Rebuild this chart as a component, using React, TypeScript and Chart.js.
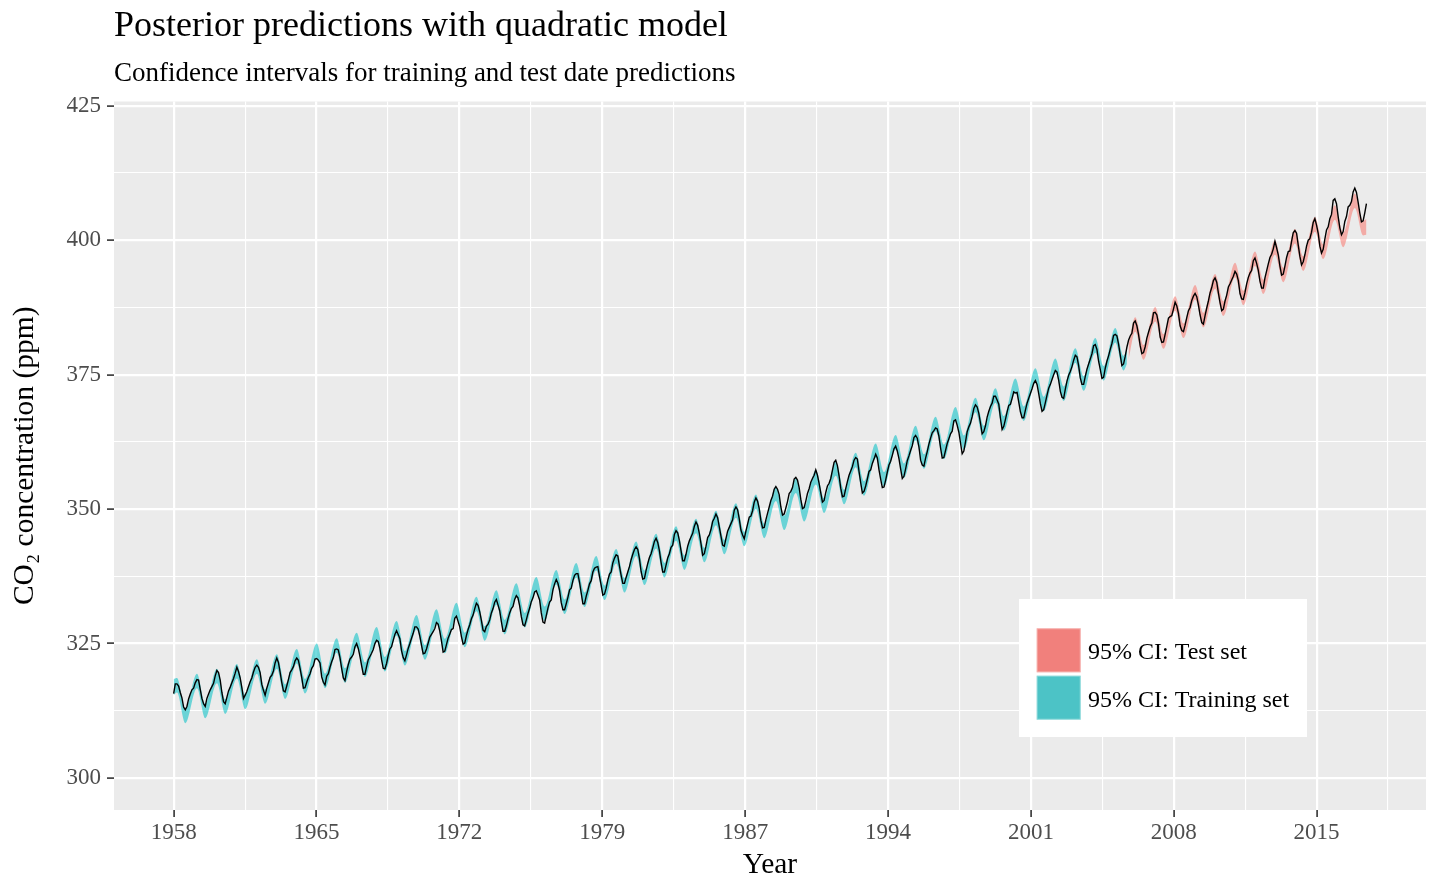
import { useEffect, useRef } from 'react';
import { Chart, registerables } from 'chart.js';

Chart.register(...registerables);

const SERIF = '"Liberation Serif", "Times New Roman", Times, serif';

// Mauna Loa monthly means (ppm), one row per year, March 1958 to December 2017
const co2_1958_1967 = [
  315.7, 317.5, 317.5, 317.1, 315.9, 314.9, 313.2, 312.7, 313.3, 314.7,
  315.6, 316.4, 316.7, 317.7, 318.3, 318.2, 316.5, 314.8, 313.8, 313.3, 314.8, 315.6,
  316.4, 317.0, 317.6, 319.0, 320.0, 319.6, 318.2, 315.9, 314.2, 313.8, 315.0, 316.2,
  316.9, 317.7, 318.5, 319.5, 320.6, 319.8, 318.6, 316.8, 314.8, 315.4, 316.1, 317.0,
  317.9, 318.6, 319.7, 320.6, 321.0, 320.6, 319.6, 317.4, 316.3, 315.4, 316.7, 317.7,
  318.7, 319.1, 319.9, 321.4, 322.3, 321.5, 319.7, 317.8, 316.2, 316.0, 317.1, 318.3,
  319.6, 320.1, 320.7, 321.8, 322.3, 321.9, 320.4, 318.7, 316.7, 316.8, 317.8, 318.7,
  319.4, 320.4, 320.9, 322.1, 322.2, 321.9, 321.4, 318.8, 317.8, 317.3, 318.9, 319.4,
  320.6, 321.6, 322.4, 323.9, 324.0, 323.8, 322.4, 320.4, 318.6, 318.1, 319.8, 321.1,
  322.1, 322.5, 323.0, 324.4, 325.0, 324.1, 322.6, 320.9, 319.3, 319.3, 320.7, 322.0,
];
const co2_1968_1977 = [
  322.6, 323.2, 323.9, 325.0, 325.6, 325.4, 324.1, 322.0, 320.4, 320.3, 321.3, 322.8,
  324.0, 324.4, 325.6, 326.7, 327.4, 326.7, 325.9, 323.7, 322.4, 321.8, 322.9, 324.1,
  325.0, 326.0, 326.9, 328.1, 328.1, 327.7, 326.4, 324.7, 323.1, 323.2, 324.0, 325.1,
  326.2, 326.7, 327.2, 327.8, 328.9, 328.6, 327.3, 325.5, 323.4, 323.6, 324.8, 326.0,
  326.8, 327.6, 327.8, 329.7, 330.1, 329.1, 328.1, 326.3, 324.9, 325.1, 326.5, 327.6,
  328.5, 329.6, 330.3, 331.5, 332.5, 332.1, 330.9, 329.3, 327.5, 327.2, 328.2, 328.6,
  329.4, 330.7, 331.5, 332.7, 333.2, 332.2, 331.1, 329.1, 327.3, 327.3, 328.3, 329.6,
  330.7, 331.5, 331.9, 333.2, 333.9, 333.5, 332.0, 330.0, 328.5, 328.3, 329.4, 330.6,
  331.6, 332.8, 333.5, 334.6, 334.8, 334.0, 333.1, 330.7, 329.0, 328.8, 330.2, 331.6,
  332.7, 333.1, 335.0, 336.1, 336.9, 336.2, 334.9, 332.6, 331.3, 331.3, 332.4, 333.6,
];
const co2_1978_1987 = [
  335.0, 335.3, 336.7, 337.7, 338.0, 338.0, 336.4, 334.4, 332.4, 332.4, 333.8, 334.9,
  336.1, 336.7, 338.3, 339.0, 339.2, 339.3, 337.5, 335.8, 334.0, 334.2, 335.3, 336.8,
  337.9, 338.3, 340.0, 340.9, 341.5, 341.3, 339.4, 337.7, 336.2, 336.2, 337.3, 338.3,
  339.3, 340.6, 341.6, 342.5, 343.0, 342.5, 340.8, 338.4, 337.0, 337.1, 338.6, 339.9,
  341.0, 341.7, 342.8, 344.0, 344.6, 343.8, 342.3, 340.1, 338.3, 338.3, 339.6, 340.9,
  341.7, 342.9, 343.3, 345.3, 346.0, 345.6, 344.2, 342.3, 340.4, 340.4, 341.6, 343.1,
  344.1, 344.8, 345.5, 346.8, 347.6, 347.0, 345.5, 343.6, 341.4, 341.7, 343.1, 344.7,
  345.2, 346.2, 347.7, 348.3, 349.1, 348.4, 346.7, 345.0, 343.3, 343.1, 344.5, 345.9,
  346.6, 347.3, 348.0, 349.8, 350.4, 349.9, 348.2, 346.1, 345.2, 344.5, 345.9, 347.2,
  348.5, 348.7, 349.7, 351.3, 352.1, 351.5, 350.1, 347.9, 346.5, 346.6, 348.0, 349.2,
];
const co2_1988_1997 = [
  350.4, 351.6, 352.4, 353.7, 354.2, 353.7, 352.7, 350.4, 348.9, 349.1, 350.2, 351.4,
  352.9, 353.3, 354.0, 355.6, 355.9, 355.4, 354.0, 351.8, 350.1, 350.3, 351.5, 352.9,
  353.8, 355.0, 355.7, 356.3, 357.3, 356.3, 354.8, 353.0, 351.3, 351.6, 353.1, 354.3,
  354.8, 355.7, 357.2, 358.7, 359.1, 358.1, 356.2, 353.9, 352.3, 352.4, 353.8, 355.1,
  356.3, 357.1, 357.9, 359.1, 359.6, 359.3, 357.0, 354.9, 353.0, 353.3, 354.3, 355.6,
  357.0, 357.3, 358.5, 359.3, 360.2, 359.5, 357.3, 355.6, 354.0, 354.1, 355.4, 356.9,
  358.2, 358.9, 360.0, 361.2, 361.7, 360.8, 359.4, 357.5, 355.7, 356.1, 357.5, 359.0,
  359.9, 360.9, 361.8, 363.3, 363.7, 363.2, 361.6, 359.1, 358.2, 358.0, 359.5, 360.7,
  362.1, 363.2, 364.2, 364.6, 365.1, 364.9, 363.6, 361.4, 359.5, 359.6, 360.9, 362.2,
  363.1, 364.0, 364.5, 366.4, 366.6, 365.6, 364.3, 362.3, 360.3, 360.8, 362.5, 364.4,
];
const co2_1998_2007 = [
  365.3, 366.0, 367.2, 368.7, 369.4, 369.0, 367.8, 366.0, 364.0, 364.4, 365.5, 367.1,
  368.2, 369.1, 369.7, 371.0, 371.0, 370.3, 369.5, 366.9, 364.8, 365.4, 366.7, 368.1,
  369.3, 369.5, 370.6, 371.8, 371.6, 371.7, 369.9, 368.1, 367.0, 367.0, 368.4, 369.7,
  370.6, 371.5, 372.4, 373.4, 373.9, 373.2, 371.5, 369.6, 368.2, 368.5, 369.8, 371.2,
  372.5, 373.2, 374.1, 375.0, 375.8, 375.5, 374.0, 371.9, 370.8, 370.6, 372.3, 373.8,
  374.9, 375.6, 376.5, 377.7, 378.6, 378.3, 376.7, 374.4, 373.2, 373.2, 374.7, 376.0,
  377.0, 377.9, 378.9, 380.4, 380.6, 379.7, 377.5, 376.0, 374.3, 374.5, 376.2, 377.5,
  378.5, 379.7, 380.8, 382.3, 382.5, 382.2, 380.7, 378.7, 376.7, 377.0, 378.4, 380.1,
  381.4, 382.2, 382.7, 384.6, 385.0, 384.1, 382.5, 380.4, 378.9, 379.1, 380.2, 381.8,
  382.9, 383.9, 384.6, 386.5, 386.6, 386.1, 384.5, 382.0, 381.0, 381.1, 382.5, 384.0,
];
const co2_2008_2017 = [
  385.5, 385.8, 386.0, 387.2, 388.5, 387.8, 386.4, 384.1, 383.2, 383.0, 384.2, 385.6,
  386.9, 387.5, 388.8, 389.6, 390.1, 389.5, 388.0, 386.1, 384.7, 384.4, 386.0, 387.4,
  388.7, 390.2, 391.2, 392.5, 393.0, 392.2, 390.2, 388.4, 386.9, 387.2, 388.7, 389.8,
  391.3, 391.9, 392.6, 393.3, 394.2, 393.7, 392.5, 390.1, 389.1, 389.0, 390.3, 391.9,
  393.1, 393.9, 394.4, 396.2, 396.7, 395.7, 394.4, 392.4, 391.1, 391.1, 393.0, 394.3,
  395.6, 396.8, 397.4, 398.4, 399.8, 398.6, 397.3, 395.2, 393.5, 393.7, 395.2, 396.8,
  397.9, 398.0, 399.8, 401.4, 401.8, 401.3, 399.1, 397.0, 395.4, 396.0, 397.3, 398.9,
  400.0, 400.3, 401.5, 403.3, 404.0, 402.8, 401.3, 398.9, 397.6, 398.3, 400.2, 401.9,
  402.5, 404.0, 404.8, 407.4, 407.7, 406.8, 404.4, 402.3, 401.0, 401.6, 403.5, 404.4,
  406.2, 406.5, 407.2, 409.0, 409.7, 408.9, 407.1, 405.1, 403.4, 403.6, 405.1, 406.8,
];
const firstYear = 1958;
const firstMonth = 3;

// 95% band knots: first month, then May / October of each year, then last month
const trainUpper = [
  318.4,
  318.6, 312.9, 319.4, 313.8, 320.3, 314.6, 321.2, 315.5, 322.1, 316.5,
  323.0, 317.4, 324.0, 318.4, 325.0, 319.4, 326.0, 320.4, 327.0, 321.5,
  328.1, 322.5, 329.2, 323.6, 330.3, 324.7, 331.4, 325.9, 332.6, 327.0,
  333.7, 328.2, 334.9, 329.4, 336.2, 330.7, 337.4, 331.9, 338.7, 333.2,
  340.0, 334.5, 341.3, 335.8, 342.6, 337.2, 344.0, 338.6, 345.4, 340.0,
  346.8, 341.4, 348.2, 342.8, 349.7, 344.3, 351.1, 345.8, 352.7, 347.3,
  354.2, 348.8, 355.7, 350.4, 357.3, 352.0, 358.9, 353.6, 360.5, 355.2,
  362.2, 356.9, 363.8, 358.5, 365.5, 360.2, 367.2, 362.0, 369.0, 363.7,
  370.7, 365.5, 372.5, 367.3, 374.3, 369.1, 376.2, 370.9, 378.0, 372.8,
  379.9, 374.7, 381.8, 376.6, 383.7, 378.5,
  379.8,
];
const trainLower = [
  315.4,
  315.9, 310.2, 316.7, 311.1, 317.6, 311.9, 318.5, 312.8, 319.4, 313.8,
  320.3, 314.7, 321.3, 315.7, 322.3, 316.7, 323.3, 317.7, 324.3, 318.8,
  325.4, 319.8, 326.5, 320.9, 327.6, 322.0, 328.7, 323.2, 329.9, 324.3,
  331.0, 325.5, 332.2, 326.7, 333.5, 328.0, 334.7, 329.2, 336.0, 330.5,
  337.3, 331.8, 338.6, 333.1, 339.9, 334.5, 341.3, 335.9, 342.7, 337.3,
  344.1, 338.7, 345.5, 340.1, 347.0, 341.6, 348.4, 343.1, 350.0, 344.6,
  351.5, 346.1, 353.0, 347.7, 354.6, 349.3, 356.2, 350.9, 357.8, 352.5,
  359.5, 354.2, 361.1, 355.8, 362.8, 357.5, 364.5, 359.3, 366.3, 361.0,
  368.0, 362.8, 369.8, 364.6, 371.6, 366.4, 373.5, 368.2, 375.3, 370.1,
  377.2, 372.0, 379.1, 373.9, 381.0, 375.8,
  377.0,
];
const testUpper = [
  380.6,
  385.7, 380.5, 387.6, 382.5, 389.6, 384.5, 391.7, 386.5, 393.7, 388.6, 395.8, 390.6,
  397.9, 392.7, 400.0, 394.9, 402.1, 397.0, 404.3, 399.2, 406.5, 401.4, 408.7, 403.6,
  404.0,
];
const testLower = [
  377.8,
  383.0, 377.8, 384.9, 379.8, 386.9, 381.8, 389.0, 383.8, 391.0, 385.9, 393.1, 387.9,
  395.2, 390.0, 397.3, 392.2, 399.4, 394.3, 401.6, 396.5, 403.8, 398.7, 406.0, 400.9,
  401.0,
];

const yearTicks = [1958.17, 1965.32, 1972.48, 1979.64, 1986.8, 1993.95, 2001.11, 2008.27, 2015.42];
const yearLabels = ['1958', '1965', '1972', '1979', '1987', '1994', '2001', '2008', '2015'];
const ppmTicks = [300, 325, 350, 375, 400, 425];

const legendLabels = ['95% CI: Test set', '95% CI: Training set'];
const legendColors = ['#F1807C', '#4CC3C6'];

const observed = [
  ...co2_1958_1967, ...co2_1968_1977, ...co2_1978_1987,
  ...co2_1988_1997, ...co2_1998_2007, ...co2_2008_2017,
];

const bandKnots = (startX: number, y0: number, y1: number, endX: number) => {
  const xs = [startX];
  for (let y = y0; y <= y1; y++) xs.push(y + 4 / 12, y + 9 / 12);
  xs.push(endX);
  return xs;
};
const toPoints = (xs: number[], ys: number[]) => xs.map((x, i) => ({ x, y: ys[i] }));

const trainX = bandKnots(1958 + 2 / 12, 1958, 2005, 2005 + 11 / 12);
const testX = bandKnots(2006, 2006, 2017, 2017 + 11 / 12);

// ggplot puts minor breaks half way between the major ones
const yearMinor = yearTicks
  .slice(1)
  .map((t, i) => (t + yearTicks[i]) / 2)
  .concat([yearTicks[yearTicks.length - 1] + (yearTicks[1] - yearTicks[0]) / 2]);
const ppmMinor = ppmTicks.slice(1).map((t, i) => (t + ppmTicks[i]) / 2);

const panelBackground = {
  id: 'panelBackground',
  beforeDraw(chart: any) {
    const { ctx, chartArea } = chart;
    ctx.save();
    ctx.fillStyle = '#EBEBEB';
    ctx.fillRect(chartArea.left, chartArea.top, chartArea.width, chartArea.height);
    ctx.restore();
  },
};

const ciLegend = {
  id: 'ciLegend',
  afterDraw(chart: any) {
    const { ctx, chartArea } = chart;
    const left = chartArea.right - 407;
    const top = chartArea.bottom - 211;
    ctx.save();
    ctx.fillStyle = '#FFFFFF';
    ctx.fillRect(left, top, 288, 138);
    legendLabels.forEach((label, i) => {
      const ky = top + 29.3 + i * 47.4;
      ctx.fillStyle = legendColors[i];
      ctx.fillRect(left + 17.7, ky, 44, 44);
      ctx.strokeStyle = 'rgba(255,255,255,0.35)';
      ctx.lineWidth = 1;
      ctx.strokeRect(left + 18.2, ky + 0.5, 43, 43);
      ctx.fillStyle = '#000000';
      ctx.font = `24px ${SERIF}`;
      ctx.textAlign = 'left';
      ctx.textBaseline = 'alphabetic';
      ctx.fillText(label, left + 69, ky + 31);
    });
    ctx.restore();
  },
};

const App = () => {
  const canvasRef = useRef<HTMLCanvasElement>(null);
  const chartRef = useRef<Chart | null>(null);

  useEffect(() => {
    document.body.style.margin = '0';
    if (chartRef.current) chartRef.current.destroy();
    if (!canvasRef.current) return;

    const isMajorYear = (v: number) => yearTicks.includes(v);
    const isMajorPpm = (v: number) => ppmTicks.includes(v);
    const band = { borderWidth: 0, borderColor: 'rgba(0,0,0,0)', pointRadius: 0, cubicInterpolationMode: 'monotone', order: 1 };

    chartRef.current = new Chart(canvasRef.current, {
      type: 'line',
      data: {
        datasets: [
          { ...band, label: 'train lower', data: toPoints(trainX, trainLower), fill: false },
          { ...band, label: 'train upper', data: toPoints(trainX, trainUpper), fill: '-1', backgroundColor: 'rgba(0,191,196,0.55)' },
          { ...band, label: 'test lower', data: toPoints(testX, testLower), fill: false },
          { ...band, label: 'test upper', data: toPoints(testX, testUpper), fill: '-1', backgroundColor: 'rgba(248,118,109,0.55)' },
          {
            label: 'observed',
            data: observed.map((v, i) => ({ x: firstYear + (firstMonth - 1 + i) / 12, y: v })),
            borderColor: '#000000',
            borderWidth: 1.4,
            pointRadius: 0,
            tension: 0,
            fill: false,
            order: 0,
          },
        ],
      } as any,
      options: {
        animation: false,
        responsive: false,
        events: [],
        layout: { padding: { left: 0, right: 14, top: 0, bottom: 0 } },
        plugins: {
          legend: { display: false },
          tooltip: { enabled: false },
          title: {
            display: true,
            text: 'Posterior predictions with quadratic model',
            align: 'start',
            fullSize: false,
            color: '#000000',
            font: { family: SERIF, size: 36, weight: 'normal', lineHeight: 1 },
            padding: { top: 8.35, bottom: 0 },
          },
          subtitle: {
            display: true,
            text: 'Confidence intervals for training and test date predictions',
            align: 'start',
            fullSize: false,
            color: '#000000',
            font: { family: SERIF, size: 27, weight: 'normal', lineHeight: 1 },
            padding: { top: 16.05, bottom: 14.1 },
          },
        },
        scales: {
          x: {
            type: 'linear',
            min: 1955.18,
            max: 2020.9,
            afterBuildTicks: (axis: any) => {
              axis.ticks = [...yearTicks, ...yearMinor].sort((a, b) => a - b).map((value) => ({ value }));
            },
            afterFit: (axis: any) => {
              axis.height = 80;
            },
            border: { display: false },
            grid: {
              color: '#FFFFFF',
              lineWidth: (c: any) => (isMajorYear(c.tick?.value) ? 2.2 : 1.1),
              tickColor: (c: any) => (isMajorYear(c.tick?.value) ? '#333333' : 'rgba(0,0,0,0)'),
              tickWidth: 1.6,
              tickLength: 7,
            },
            ticks: {
              autoSkip: false,
              maxRotation: 0,
              minRotation: 0,
              padding: 2.5,
              color: '#4D4D4D',
              font: { family: SERIF, size: 23 },
              callback: (value: any) => {
                const i = yearTicks.indexOf(Number(value));
                return i >= 0 ? yearLabels[i] : '';
              },
            },
            title: {
              display: true,
              text: 'Year',
              color: '#000000',
              font: { family: SERIF, size: 29.5, lineHeight: 1 },
              padding: { top: 0, bottom: 10.25 },
            },
          },
          y: {
            type: 'linear',
            min: 294.05,
            max: 425.8,
            afterBuildTicks: (axis: any) => {
              axis.ticks = [...ppmTicks, ...ppmMinor].sort((a, b) => a - b).map((value) => ({ value }));
            },
            afterFit: (axis: any) => {
              axis.width = 114;
            },
            border: { display: false },
            grid: {
              color: '#FFFFFF',
              lineWidth: (c: any) => (isMajorPpm(c.tick?.value) ? 2.2 : 1.1),
              tickColor: (c: any) => (isMajorPpm(c.tick?.value) ? '#333333' : 'rgba(0,0,0,0)'),
              tickWidth: 1.6,
              tickLength: 7,
            },
            ticks: {
              autoSkip: false,
              padding: 6,
              color: '#4D4D4D',
              font: { family: SERIF, size: 23 },
              callback: (value: any) => (isMajorPpm(Number(value)) ? String(value) : ''),
            },
            title: {
              display: true,
              text: 'CO₂ concentration (ppm)',
              color: '#000000',
              font: { family: SERIF, size: 29.5, lineHeight: 1 },
              padding: { top: 10.3, bottom: 0 },
            },
          },
        },
      } as any,
      plugins: [panelBackground, ciLegend],
    });

    return () => {
      if (chartRef.current) {
        chartRef.current.destroy();
        chartRef.current = null;
      }
    };
  }, []);

  return (
    <div style={{ width: 1440, height: 890 }}>
      <canvas ref={canvasRef} width={1440} height={890} style={{ display: 'block', width: '1440px', height: '890px' }} />
    </div>
  );
};

export default App;
